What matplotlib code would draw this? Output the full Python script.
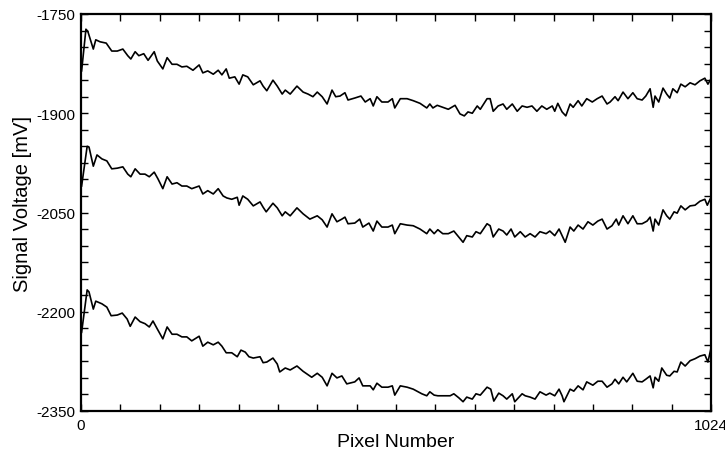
import matplotlib
matplotlib.use("Agg")
import matplotlib.pyplot as plt
from matplotlib.ticker import MultipleLocator, FixedLocator

plt.rcParams['font.family'] = ['Liberation Sans', 'DejaVu Sans']

# ---- data (pixel number, signal voltage in mV) ----
top_x = [1, 8, 11, 20, 24, 31, 41, 50, 59, 68, 76, 81, 88, 94, 102, 109, 119, 124, 133, 140,
         148, 156, 164, 172, 182, 192, 198, 206, 215, 223, 229, 236, 241, 250, 257, 263, 271, 280, 291, 296,
         302, 312, 319, 327, 332, 340, 351, 361, 369, 377, 384, 392, 400, 408, 414, 421, 429, 434, 445, 455,
         462, 470, 475, 481, 489, 499, 506, 510, 519, 530, 540, 551, 562, 567, 572, 579, 588, 597, 608, 616,
         623, 629, 636, 644, 649, 660, 665, 670, 678, 686, 692, 701, 709, 717, 725, 733, 741, 749, 757, 766,
         770, 775, 782, 788, 795, 800, 808, 814, 822, 831, 839, 847, 855, 860, 868, 873, 881, 889, 897, 904,
         912, 918, 925, 930, 933, 939, 946, 952, 957, 962, 969, 975, 982, 990, 998, 1006, 1014, 1019, 1024]
top_y = [-1836, -1773, -1776, -1803, -1789, -1792, -1794, -1806, -1806, -1803, -1813, -1818, -1807, -1813, -1810, -1820, -1807, -1821, -1833, -1816,
         -1826, -1826, -1830, -1829, -1835, -1827, -1839, -1836, -1841, -1835, -1842, -1833, -1847, -1845, -1856, -1842, -1845, -1857, -1851, -1859,
         -1866, -1850, -1859, -1871, -1865, -1871, -1859, -1868, -1871, -1875, -1868, -1875, -1886, -1865, -1875, -1874, -1869, -1880, -1877, -1874,
         -1883, -1878, -1889, -1875, -1883, -1883, -1878, -1892, -1878, -1878, -1881, -1885, -1892, -1886, -1892, -1888, -1891, -1894, -1888, -1901,
         -1904, -1898, -1900, -1889, -1894, -1878, -1878, -1897, -1889, -1886, -1894, -1886, -1897, -1889, -1891, -1889, -1897, -1889, -1894, -1889,
         -1897, -1885, -1898, -1904, -1886, -1891, -1881, -1889, -1878, -1883, -1878, -1874, -1886, -1883, -1875, -1881, -1868, -1878, -1869, -1878,
         -1880, -1874, -1863, -1891, -1874, -1883, -1862, -1871, -1877, -1863, -1869, -1856, -1860, -1854, -1857, -1851, -1847, -1856, -1848]

mid_x = [1, 10, 13, 20, 26, 34, 42, 50, 59, 68, 76, 81, 88, 96, 104, 111, 119, 125, 133, 140,
         148, 156, 164, 172, 180, 192, 198, 206, 215, 223, 231, 237, 245, 254, 257, 263, 271, 280, 291, 296,
         301, 312, 319, 327, 332, 340, 351, 361, 372, 384, 392, 400, 408, 416, 424, 429, 434, 445, 453, 458,
         468, 475, 481, 489, 499, 506, 510, 519, 530, 540, 551, 562, 567, 574, 580, 588, 597, 606, 614, 621,
         627, 636, 642, 649, 660, 665, 670, 679, 686, 692, 699, 705, 714, 722, 730, 738, 746, 756, 762, 770,
         777, 782, 787, 795, 801, 808, 816, 824, 832, 840, 847, 855, 863, 870, 874, 881, 889, 897, 904, 912,
         920, 925, 930, 933, 939, 946, 952, 957, 964, 969, 975, 982, 990, 998, 1006, 1014, 1018, 1024]
mid_y = [-2010, -1950, -1951, -1980, -1963, -1969, -1972, -1984, -1983, -1981, -1992, -1996, -1984, -1992, -1992, -1996, -1989, -1999, -2014, -1996,
         -2007, -2005, -2010, -2010, -2014, -2010, -2022, -2017, -2022, -2014, -2025, -2028, -2030, -2027, -2039, -2025, -2030, -2040, -2034, -2042,
         -2049, -2036, -2043, -2055, -2049, -2055, -2043, -2052, -2060, -2055, -2061, -2072, -2052, -2064, -2060, -2057, -2067, -2066, -2060, -2072,
         -2066, -2078, -2063, -2072, -2072, -2069, -2082, -2067, -2069, -2070, -2075, -2082, -2075, -2082, -2076, -2082, -2082, -2078, -2087, -2095,
         -2085, -2087, -2079, -2082, -2067, -2070, -2087, -2075, -2078, -2084, -2075, -2087, -2079, -2087, -2082, -2087, -2079, -2082, -2078, -2085,
         -2075, -2085, -2095, -2072, -2078, -2069, -2075, -2064, -2069, -2063, -2060, -2075, -2070, -2060, -2069, -2055, -2067, -2055, -2067, -2067,
         -2063, -2057, -2078, -2060, -2069, -2046, -2055, -2060, -2049, -2051, -2040, -2046, -2040, -2039, -2033, -2030, -2039, -2027]

bot_x = [1, 10, 13, 20, 24, 34, 42, 49, 59, 67, 75, 80, 88, 96, 104, 111, 117, 124, 133, 140,
         148, 156, 164, 172, 180, 192, 198, 206, 215, 223, 229, 236, 245, 254, 260, 267, 273, 280, 291, 296,
         302, 312, 319, 323, 332, 340, 351, 361, 375, 384, 392, 400, 408, 416, 424, 432, 445, 452, 458, 470,
         475, 481, 489, 499, 506, 510, 519, 530, 540, 554, 562, 567, 574, 580, 588, 600, 606, 614, 621, 627,
         636, 642, 649, 660, 666, 671, 679, 686, 692, 701, 705, 717, 722, 730, 738, 746, 756, 762, 770, 777,
         782, 785, 795, 801, 808, 816, 822, 832, 840, 847, 855, 863, 868, 874, 881, 887, 897, 904, 912, 918,
         925, 930, 933, 939, 944, 952, 957, 964, 969, 975, 982, 990, 998, 1006, 1014, 1019, 1024]
bot_y = [-2231, -2167, -2170, -2196, -2184, -2188, -2193, -2206, -2205, -2202, -2211, -2222, -2208, -2215, -2218, -2223, -2214, -2226, -2241, -2223,
         -2234, -2234, -2238, -2238, -2244, -2237, -2252, -2246, -2250, -2246, -2252, -2262, -2262, -2268, -2258, -2261, -2268, -2270, -2268, -2277,
         -2276, -2270, -2279, -2291, -2285, -2288, -2282, -2290, -2299, -2293, -2299, -2312, -2293, -2300, -2297, -2309, -2306, -2300, -2312, -2312,
         -2318, -2308, -2314, -2314, -2312, -2326, -2312, -2314, -2317, -2324, -2327, -2321, -2326, -2327, -2327, -2327, -2324, -2330, -2336, -2329,
         -2332, -2324, -2326, -2314, -2317, -2335, -2323, -2327, -2332, -2324, -2336, -2324, -2327, -2329, -2332, -2321, -2326, -2323, -2327, -2317,
         -2327, -2336, -2317, -2320, -2312, -2318, -2306, -2311, -2305, -2305, -2314, -2309, -2302, -2309, -2299, -2306, -2293, -2305, -2306, -2302,
         -2297, -2315, -2299, -2305, -2285, -2296, -2297, -2290, -2291, -2276, -2282, -2274, -2271, -2267, -2265, -2276, -2255]

x_tick_labels = ["0", "1024"]
y_ticks = [-2350, -2200, -2050, -1900, -1750]

# ---- figure ----
fig = plt.figure(figsize=(7.25, 4.56), dpi=100)
ax = fig.add_axes([81/725, 44/456, 630/725, 397/456])

for xs, ys in [(top_x, top_y), (mid_x, mid_y), (bot_x, bot_y)]:
    ax.plot(xs, ys, color='black', lw=1.2, solid_joinstyle='round')

ax.set_xlim(0, 1024)
ax.set_ylim(-2350, -1750)
ax.xaxis.set_major_locator(FixedLocator([0, 1024]))
ax.set_xticklabels(x_tick_labels)
ax.xaxis.set_minor_locator(MultipleLocator(64))
ax.set_yticks(y_ticks)
ax.set_yticklabels([str(v) for v in y_ticks])
ax.yaxis.set_minor_locator(MultipleLocator(25))

ax.tick_params(which='both', direction='in', top=True, right=True, length=5, width=1,
               labelsize=11, colors='black')
ax.tick_params(axis='x', which='major', pad=5)
ax.tick_params(axis='y', which='major', pad=4)
for s in ax.spines.values():
    s.set_linewidth(1.6)

ax.set_xlabel("Pixel Number", fontsize=14, labelpad=1)
ax.set_ylabel("Signal Voltage [mV]", fontsize=14.5)
ax.yaxis.set_label_coords(-0.077, 0.525)

fig.savefig("out.png", dpi=100)
